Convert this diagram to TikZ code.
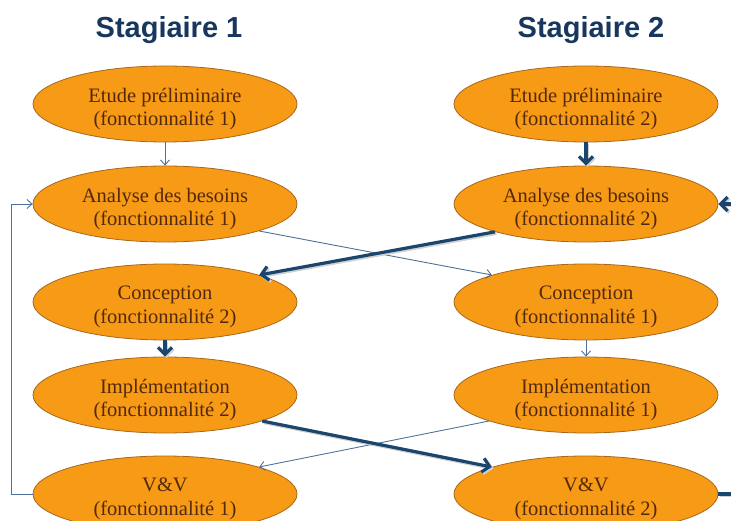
\documentclass[tikz,border=0pt]{standalone}
\usepackage{fontspec}
\setmainfont{Liberation Serif}
\newfontfamily\titlefont{Liberation Sans}
\usetikzlibrary{shapes.geometric,arrows.meta}
\definecolor{phasefill}{HTML}{F79A16}
\definecolor{phaseline}{HTML}{A8671A}
\definecolor{phasetext}{HTML}{53290B}
\definecolor{titleblue}{HTML}{17375E}
\definecolor{thinblue}{HTML}{4F7199}
\definecolor{thickblue}{HTML}{1A466E}
\begin{document}
\begin{tikzpicture}[x=1pt,y=-1pt,
  % an orange ellipse whose two-line caption sits a little below its middle
  phase/.style={ellipse, draw=phaseline, fill=phasefill, line width=0.8pt,
    minimum width=264pt, minimum height=76pt, inner sep=0pt,
    label={[phasecaption]center:#1}},
  phasecaption/.style={align=center, text=phasetext, inner sep=0pt,
    font=\fontsize{20.5}{23.5}\selectfont, yshift=-5pt},
  thinflow/.style={draw=thinblue, line width=0.9pt,
    -{Straight Barb[length=5pt,width=9pt]}},
  thickflow/.style={draw=thickblue, line width=3.2pt,
    -{Straight Barb[length=7pt,width=14pt]},
    preaction={draw=black!18, line width=3.2pt, transform canvas={shift={(1.5pt,-1.5pt)}}}},
  heading/.style={font=\titlefont\bfseries\fontsize{29}{31}\selectfont, text=titleblue}]
\useasboundingbox (0,0) rectangle (731,521);
\clip (0,0) rectangle (731,521);

% column headings
\node[heading] (h1) at (169,30) {Stagiaire 1};
\node[heading] (h2) at (591,30) {Stagiaire 2};

% phases of the first trainee
\node[phase={Etude préliminaire\\(fonctionnalité 1)}] (et1) at (165,104) {};
\node[phase={Analyse des besoins\\(fonctionnalité 1)}] (an1) at (165,204) {};
\node[phase={Conception\\(fonctionnalité 2)}] (co1) at (165,302) {};
\node[phase={Implémentation\\(fonctionnalité 2)}] (im1) at (165,395) {};
\node[phase={V\&V\\(fonctionnalité 1)}] (vv1) at (165,494) {};

% phases of the second trainee
\node[phase={Etude préliminaire\\(fonctionnalité 2)}] (et2) at (586,104) {};
\node[phase={Analyse des besoins\\(fonctionnalité 2)}] (an2) at (586,204) {};
\node[phase={Conception\\(fonctionnalité 1)}] (co2) at (586,302) {};
\node[phase={Implémentation\\(fonctionnalité 1)}] (im2) at (586,395) {};
\node[phase={V\&V\\(fonctionnalité 2)}] (vv2) at (586,494) {};

% functionality 1 (thin)
\draw[thinflow] (et1) -- (an1);
\draw[thinflow] (an1.-16) -- (co2.164);
\draw[thinflow] (co2) -- (im2);
\draw[thinflow] (im2.195) -- (vv1.16);
\draw[thinflow] (vv1.west) -- ++(-21,0) coordinate (r1) |- (an1.west);

% functionality 2 (thick)
\draw[thickflow] (et2) -- (an2);
\draw[thickflow] (an2.197) -- (co1.16);
\draw[thickflow] (co1) -- (im1);
\draw[thickflow] (im1.-15) -- (vv2.164);
\draw[thickflow] (vv2.east) -- ++(30,0) coordinate (r2) |- (an2.east);
\end{tikzpicture}
\end{document}
